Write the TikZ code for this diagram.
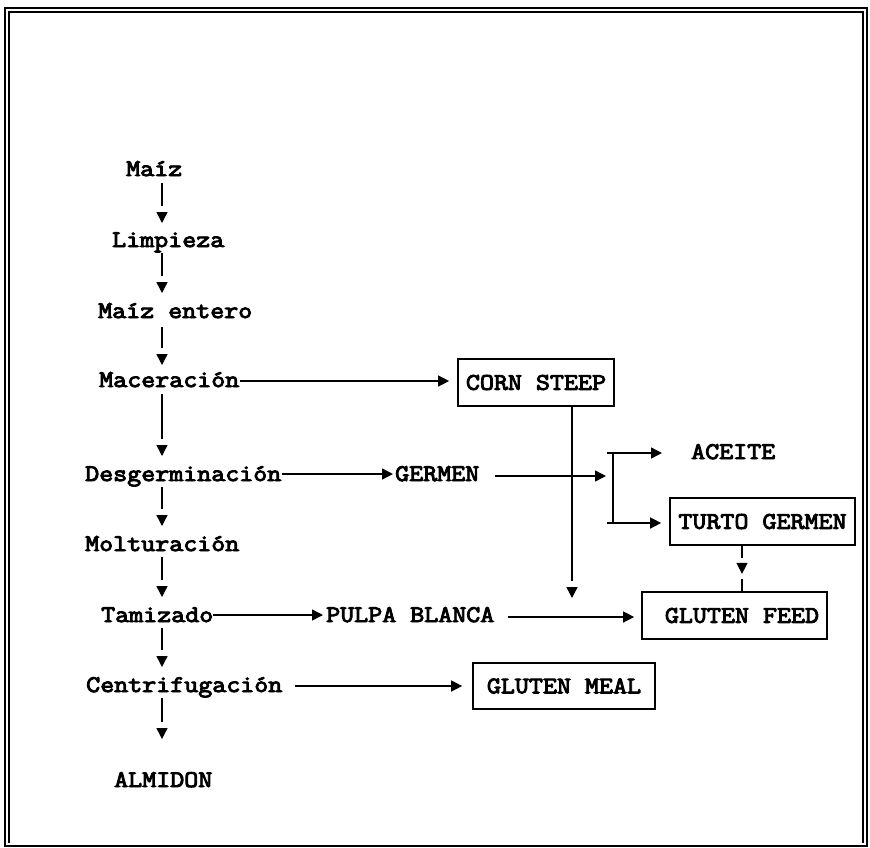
\documentclass[tikz,border=0pt]{standalone}
\usepackage{fontspec}
\newfontfamily\diagmono{Latin Modern Mono}[FakeStretch=1.143,FakeBold=4]
\usetikzlibrary{arrows.meta,calc}
\newcommand\diagfs{\diagmono\fontsize{23.8}{28}\selectfont}
\tikzset{
  lbl/.style={anchor=base west, inner sep=0pt, font=\diagfs},
  box/.style={draw, line width=1.7pt, inner sep=0pt, font=\diagfs, minimum height=47pt},
  arr/.style={line width=1.4pt, -{Triangle[length=11pt,width=11pt]}},
  ln/.style={line width=1.5pt},
  frame/.style={line width=1.6pt}
}
% vertical connector with a gap before its head: #1 start, #2 tip
\newcommand\vconn[2]{%
  \draw[ln] #1 -- ($#2+(0,-17)$);
  \draw[arr] ($#2+(0,-11)$) -- #2;}
\begin{document}
\begin{tikzpicture}[x=1pt,y=-1pt]
\useasboundingbox (0,0) rectangle (870,847);
% frame
\draw[frame] (5,8) rectangle (867,846);
\draw[frame] (9,843) -- (9,12) -- (863,12) -- (863,843);

% left column
\node[lbl] (maiz) at (126,176) {Maíz};
\node[lbl] (limp) at (112,247) {Limpieza};
\node[lbl] (ment) at (98,318) {Maíz entero};
\node[lbl] (mac)  at (99,387) {Maceración};
\node[lbl] (desg) at (85,481) {Desgerminación};
\node[lbl] (molt) at (85,551) {Molturación};
\node[lbl] (tam)  at (101,622) {Tamizado};
\node[lbl] (cent) at (86,692) {Centrifugación};
\node[lbl] (alm)  at (114,787) {ALMIDON};

% middle / right
\node[lbl] (germ)   at (395,481) {GERMEN};
\node[lbl] (pulpa)  at (326,622) {PULPA BLANCA};
\node[lbl] (aceite) at (691,459) {ACEITE};
\node[box, minimum width=156pt] (cs)   at (536,382.5) {CORN STEEP};
\node[box, minimum width=185pt] (tg)   at (762.5,521.5) {TURTO GERMEN};
\node[box, minimum width=185pt] (feed) at (734.5,615.5) {\hspace*{15pt}GLUTEN FEED};
\node[box, minimum width=182pt, minimum height=46pt] (meal) at (564,686) {GLUTEN MEAL};

% vertical column arrows
\coordinate (cx) at (162,0);
\vconn{($(maiz.base -| cx)+(0,7)$)}{($(limp.base -| cx)+(0,-24)$)}
\vconn{($(limp.base -| cx)+(0,6)$)}{($(ment.base -| cx)+(0,-25)$)}
\vconn{($(ment.base -| cx)+(0,9)$)}{($(mac.base -| cx)+(0,-22)$)}
\vconn{($(mac.base -| cx)+(0,7)$)}{($(desg.base -| cx)+(0,-25)$)}
\vconn{($(desg.base -| cx)+(0,6)$)}{($(molt.base -| cx)+(0,-25)$)}
\vconn{($(molt.base -| cx)+(0,6)$)}{($(tam.base -| cx)+(0,-25)$)}
\vconn{($(tam.base -| cx)+(0,6)$)}{($(cent.base -| cx)+(0,-25)$)}
\vconn{($(cent.base -| cx)+(0,6)$)}{($(alm.base -| cx)+(0,-48)$)}

% horizontal arrows
\draw[arr, shorten >=8pt] ($(mac.base east)+(0,-6)$) coordinate (a1) -- (a1 -| cs.west);
\draw[arr, shorten >=2pt] ($(desg.base east)+(0,-7)$) coordinate (a2) -- (a2 -| germ.west);
\coordinate (bt) at (613,453);
\coordinate (bb) at (613,523);
\draw[arr, shorten >=7pt] ($(germ.base east)+(16,-5)$) coordinate (a3) -- (a3 -| bt);
\draw[ln] (bt) -- (bb);
\draw[arr, shorten >=29pt] ($(bt)+(-6,0)$) -- (bt -| aceite.west);
\draw[arr, shorten >=8pt] ($(bb)+(-6,0)$) -- (bb -| tg.west);
\draw[arr, shorten >=3pt] ($(tam.base east)+(0,-7)$) coordinate (a4) -- (a4 -| pulpa.west);
\draw[arr, shorten >=7pt] ($(pulpa.base east)+(13,-5)$) coordinate (a5) -- (a5 -| feed.west);
\draw[arr, shorten >=10pt] ($(cent.base east)+(12,-6)$) coordinate (a6) -- (a6 -| meal.west);

% corn steep down
\coordinate (csx) at (572,0);
\coordinate (csend) at (572,598);
\vconn{(cs.south -| csx)}{(csend)}

% turto germen -> gluten feed
\coordinate (tfx) at (742,0);
\draw[ln] (tg.south -| tfx) -- ++(0,12);
\draw[arr] ($(tg.south -| tfx)+(0,17)$) -- ++(0,11);
\draw[ln] (feed.north -| tfx) -- ++(0,-12);
\end{tikzpicture}
\end{document}
